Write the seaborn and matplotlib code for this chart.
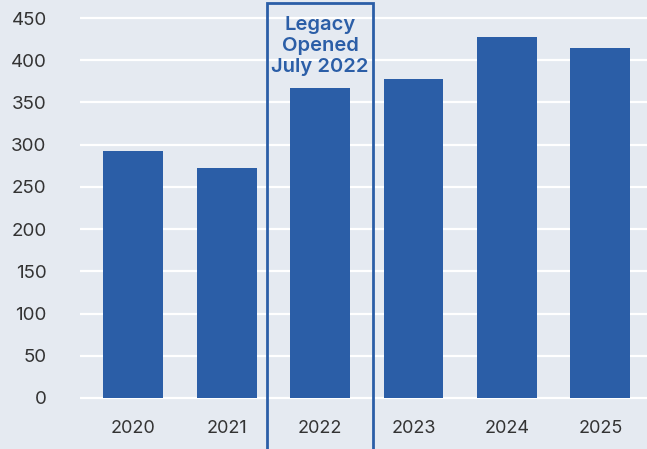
import pandas as pd
import seaborn as sns
import matplotlib.pyplot as plt
from matplotlib.patches import Rectangle

years = ['2020', '2021', '2022', '2023', '2024', '2025']
values = [292, 272, 367, 378, 427, 414]
highlight_year = '2022'
note = 'Legacy\nOpened\nJuly 2022'

bg = '#E5EAF1'
blue = '#2B5EA7'

df = pd.DataFrame({'Year': years, 'Value': values})

sns.set_theme(style='whitegrid')
plt.rcParams['font.family'] = ['Inter', 'DejaVu Sans']

fig = plt.figure(figsize=(6.47, 4.49), dpi=100, facecolor=bg)
ax = fig.add_axes([0.1236, 0.108, 0.8764, 0.8895])
ax.set_facecolor(bg)

sns.barplot(data=df, x='Year', y='Value', color=blue, saturation=1, width=0.64,
            linewidth=0, ax=ax)

ax.set_ylim(-3, 470)
ax.set_xlim(-0.57, 5.5)
ax.set_yticks(range(0, 451, 50))
ax.grid(axis='y', color='white', linewidth=1.6)
ax.grid(axis='x', visible=False)
ax.set_axisbelow(True)
for s in ax.spines.values():
    s.set_visible(False)
ax.set_xlabel('')
ax.set_ylabel('')
ax.tick_params(axis='x', length=0, pad=14, labelsize=13, labelcolor='#333333')
ax.tick_params(axis='y', length=0, pad=24, labelsize=13.5, labelcolor='#333333')

# box around the highlighted year
idx = years.index(highlight_year)
box = Rectangle((idx - 0.565, -0.2), 1.13, 1.195, transform=ax.get_xaxis_transform(),
                fill=False, edgecolor=blue, linewidth=2, clip_on=False)
ax.add_patch(box)
ax.text(idx, 417, note, ha='center', va='center', color=blue, fontsize=14.5,
        fontweight='semibold', linespacing=1.2)

plt.savefig('out.png', dpi=100, facecolor=bg)
